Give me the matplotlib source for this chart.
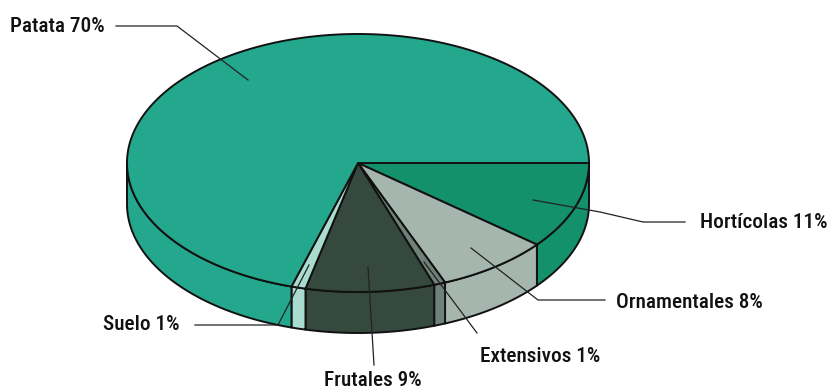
import numpy as np
import matplotlib
matplotlib.use("Agg")
import matplotlib.pyplot as plt
from matplotlib.patches import Polygon

plt.rcParams["font.family"] = ["Roboto Condensed", "Liberation Sans", "DejaVu Sans"]

labels = ["Hortícolas 11%", "Ornamentales 8%", "Extensivos 1%", "Frutales 9%", "Suelo 1%", "Patata 70%"]
values = [10.9, 7.95, 0.8, 9.0, 1.0, 70.35]
top_colors = ["#12916A", "#A4B6AD", "#6F8279", "#35493F", "#A9DBCF", "#23A88E"]
side_colors = ["#12916A", "#A4B6AD", "#6F8279", "#35493F", "#A9DBCF", "#23A88E"]

# label anchor (left x, centre y) and leader line, in pixels
label_pos = [(700, 223), (616, 302), (480, 357), (324, 380), (103, 325), (10, 26)]
leaders = [
    [(533, 200), (600, 212), (643, 222), (685, 222)],
    [(471, 248), (538, 300), (605, 300)],
    [(424, 262), (477, 333)],
    [(368, 267), (374, 365)],
    [(309, 265), (278, 325), (195, 325)],
    [(116, 26), (177, 26), (248, 80)],
]

cx, cy = 358, 163
rx, ry = 231, 129
depth = 41


def rim(t0, t1, dy=0):
    t = np.radians(np.linspace(t0, t1, 200))
    return np.column_stack([cx + rx * np.cos(t), cy + dy + ry * np.sin(t)])


fig = plt.figure(figsize=(8.28, 3.91), dpi=100)
ax = fig.add_axes([0, 0, 1, 1])
ax.set_xlim(0, 828)
ax.set_ylim(391, 0)
ax.axis("off")

edges = np.concatenate([[0], np.cumsum(values)]) * 3.6

# sides first, only the front half shows
for i in range(len(values)):
    t0, t1 = edges[i], min(edges[i + 1], 180)
    if t0 >= 180:
        continue
    pts = np.vstack([rim(t0, t1), rim(t0, t1, depth)[::-1]])
    ax.add_patch(Polygon(pts, closed=True, fc=side_colors[i], ec="#111111", lw=1.4, joinstyle="round"))

for i in range(len(values)):
    pts = np.vstack([[cx, cy], rim(edges[i], edges[i + 1])])
    ax.add_patch(Polygon(pts, closed=True, fc=top_colors[i], ec="#111111", lw=1.4, joinstyle="round"))

for pts in leaders:
    xs, ys = zip(*pts)
    ax.plot(xs, ys, color="#222222", lw=0.9, solid_joinstyle="miter")

for lab, (x, y) in zip(labels, label_pos):
    ax.text(x, y, lab, fontsize=15.3, color="#111111", ha="left", va="center", fontweight="medium")

fig.savefig("out.png", dpi=100)
